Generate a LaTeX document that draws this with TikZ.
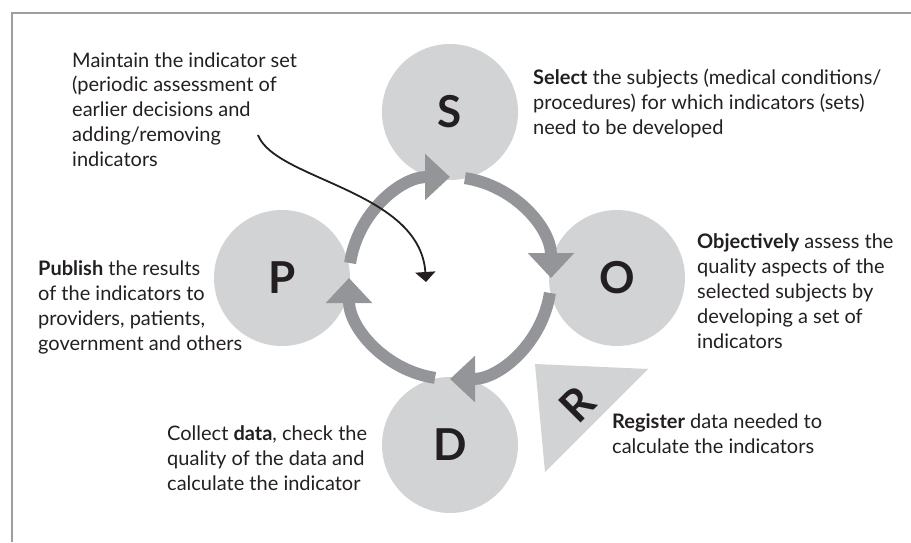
\documentclass[tikz,border=0pt]{standalone}
\usepackage{fontspec}
\setmainfont{Lato}
\usetikzlibrary{arrows.meta}
\definecolor{circlegray}{HTML}{D1D3D4}
\definecolor{ringgray}{HTML}{939598}
\definecolor{framegray}{HTML}{9D9D9D}
\definecolor{inkblack}{HTML}{231F20}

\begin{document}
\begin{tikzpicture}[x=1pt, y=1pt, font=\fontsize{20}{25}\selectfont, text=inkblack,
    stage/.style={circle, fill=circlegray, minimum size=136pt, inner sep=0pt, font=\fontsize{44}{44}\selectfont\bfseries},
    blurb/.style={align=left, anchor=base west, inner sep=0pt},
    ringarrow/.style={ringgray, line width=12pt, -{Triangle[length=25pt, width=45pt]}}]
    \useasboundingbox (0,0) rectangle (911,542);
    \draw[framegray, line width=2.5pt] (12,0) -- (12,529) -- (911,529);

    \coordinate (C) at (450,264);
    \node[stage] (S) at (450,430) {S};
    \node[stage] (O) at (617,264) {O};
    \node[stage] (P) at (282,264) {P};
    \node[stage] (D) at (450,97) {D};

    \fill[circlegray] (535,178) -- (648,173) -- (545,70) -- cycle;
    \node[font=\fontsize{44}{44}\selectfont\bfseries, rotate=45] (R) at (577,138) {R};

    \foreach \a in {0,-90,-180,-270}
        \draw[ringarrow] ([shift={(\a+171.5:101)}]C) arc[start angle=\a+171.5, end angle=\a+90, radius=101];

    \node[blurb] (maintain) at (72,375) {Maintain the indicator set\\(periodic assessment of\\earlier decisions and\\adding/removing\\indicators};
    \node[blurb] (select) at (533,407) {\textbf{Select} the subjects (medical conditions/\\procedures) for which indicators (sets)\\need to be developed};
    \node[blurb] (objective) at (697,194) {\textbf{Objectively} assess the\\quality aspects of the\\selected subjects by\\developing a set of\\indicators};
    \node[blurb] (publish) at (38,192) {\textbf{Publish} the results\\of the indicators to\\providers, patients,\\government and others};
    \node[blurb] (collect) at (167,52) {Collect \textbf{data}, check the\\quality of the data and\\calculate the indicator};
    \node[blurb] (register) at (612,89) {\textbf{Register} data needed to\\calculate the indicators};

    \coordinate (curve-start) at (258,407);
    \coordinate (curve-end) at (426,260);
    \draw[inkblack, line width=1.8pt, -{Triangle[length=10pt, width=20pt]}] (curve-start) .. controls (275,362) and (420,352) .. (curve-end);
\end{tikzpicture}
\end{document}
